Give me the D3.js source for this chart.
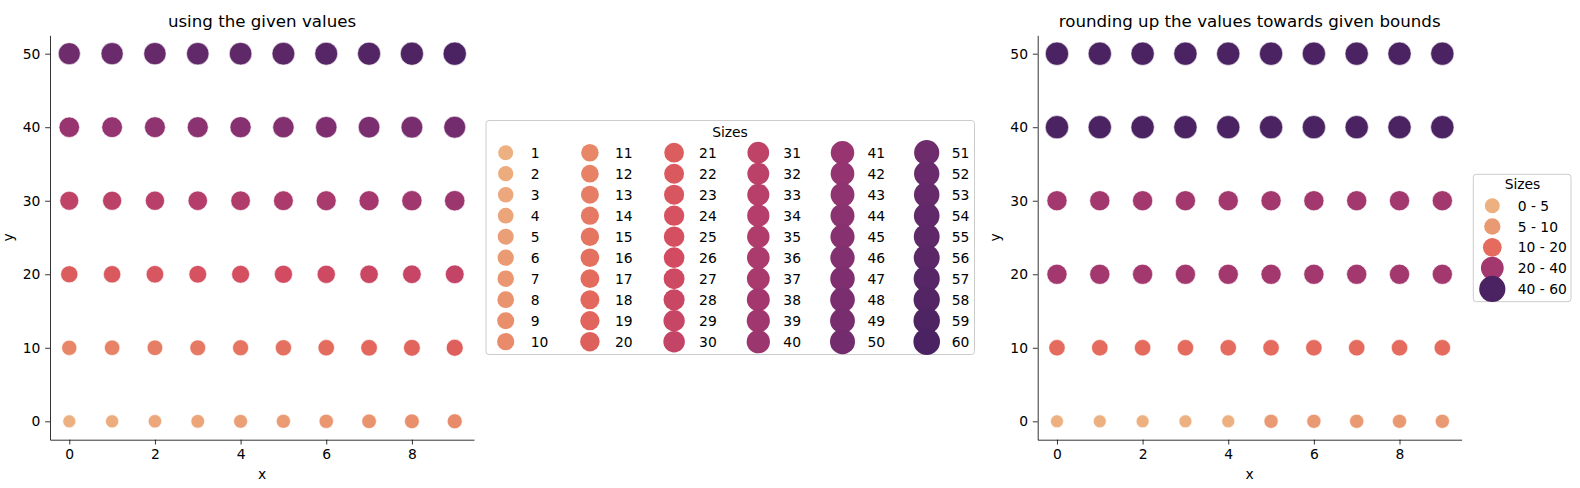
<!DOCTYPE html>
<html>
<head>
<meta charset="utf-8">
<script src="https://cdn.jsdelivr.net/npm/d3@7"></script>
<style>
  html, body { margin: 0; padding: 0; background: #fff; }
  svg { display: block; font-family: "DejaVu Sans", sans-serif; }
</style>
</head>
<body>
<svg id="chart" width="1580" height="488"></svg>
<script>
// ---------------- data ----------------
const xValues = [0, 1, 2, 3, 4, 5, 6, 7, 8, 9];
const yValues = [0, 10, 20, 30, 40, 50];
// given values (one row per y level)
const givenValues = [
  [1, 2, 3, 4, 5, 6, 7, 8, 9, 10],
  [11, 12, 13, 14, 15, 16, 17, 18, 19, 20],
  [21, 22, 23, 24, 25, 26, 27, 28, 29, 30],
  [31, 32, 33, 34, 35, 36, 37, 38, 39, 40],
  [41, 42, 43, 44, 45, 46, 47, 48, 49, 50],
  [51, 52, 53, 54, 55, 56, 57, 58, 59, 60]
];
// values rounded up towards the given bounds
const roundedValues = [
  [5, 5, 5, 5, 5, 10, 10, 10, 10, 10],
  [20, 20, 20, 20, 20, 20, 20, 20, 20, 20],
  [40, 40, 40, 40, 40, 40, 40, 40, 40, 40],
  [40, 40, 40, 40, 40, 40, 40, 40, 40, 40],
  [60, 60, 60, 60, 60, 60, 60, 60, 60, 60],
  [60, 60, 60, 60, 60, 60, 60, 60, 60, 60]
];
const boundValues = [5, 10, 20, 40, 60];
const boundLabels = ["0 - 5", "5 - 10", "10 - 20", "20 - 40", "40 - 60"];
const legendValues = [
  1, 2, 3, 4, 5, 6, 7, 8, 9, 10, 11, 12, 13, 14, 15, 16, 17, 18, 19, 20,
  21, 22, 23, 24, 25, 26, 27, 28, 29, 30, 31, 32, 33, 34, 35, 36, 37, 38, 39, 40,
  41, 42, 43, 44, 45, 46, 47, 48, 49, 50, 51, 52, 53, 54, 55, 56, 57, 58, 59, 60
];
const xTicks = [0, 2, 4, 6, 8];
const yTicks = [0, 10, 20, 30, 40, 50];
const titles = ["using the given values", "rounding up the values towards given bounds"];

// ---------------- styling ----------------
const flareStops = ["#edb081", "#e98d6b", "#e3685c", "#d14a61", "#b13c6c", "#8f3371", "#6c2b6d", "#4b2362"];
const svg = d3.select("#chart");
const FS = 13.89;

function flare(domainMin, domainMax) {
  const n = flareStops.length;
  const dom = flareStops.map((_, i) => domainMin + (domainMax - domainMin) * i / (n - 1));
  return d3.scaleLinear().domain(dom).range(flareStops).interpolate(d3.interpolateRgb).clamp(true);
}
function sizeScale(domainMin, domainMax, aMin, aMax) {
  const s = d3.scaleLinear().domain([domainMin, domainMax]).range([aMin, aMax]).clamp(true);
  return v => Math.sqrt(s(v));
}

function drawPanel(left, right, title, values, vmin, vmax) {
  const top = 35.3, bottom = 439.7;
  const x = d3.scaleLinear().domain([-0.45, 9.45]).range([left, right]);
  const y = d3.scaleLinear().domain([-2.5, 52.5]).range([bottom, top]);
  const color = flare(vmin, vmax);
  const r = sizeScale(vmin, vmax, 37.8, 128.8);

  const g = svg.append("g");
  const pts = [];
  yValues.forEach((yv, i) => xValues.forEach((xv, j) => pts.push({x: xv, y: yv, v: values[i][j]})));
  g.selectAll("circle").data(pts).join("circle")
    .attr("cx", d => x(d.x)).attr("cy", d => y(d.y))
    .attr("r", d => r(d.v) + 0.3)
    .attr("fill", d => color(d.v))
    .attr("stroke", "#fff").attr("stroke-width", 0.6);

  const tick = 4.86;
  const xa = g.append("g").attr("transform", `translate(0,${bottom})`)
    .call(d3.axisBottom(x).tickValues(xTicks).tickFormat(d3.format("d")).tickSize(tick).tickPadding(4.86).tickSizeOuter(0));
  const ya = g.append("g").attr("transform", `translate(${left},0)`)
    .call(d3.axisLeft(y).tickValues(yTicks).tickFormat(d3.format("d")).tickSize(tick).tickPadding(4.86).tickSizeOuter(0));
  [xa, ya].forEach(a => {
    a.selectAll("text").attr("font-size", FS).attr("fill", "#000").attr("font-family", "DejaVu Sans");
    a.selectAll("line").attr("stroke", "#000").attr("stroke-width", 0.8);
    a.select(".domain").attr("stroke", "#000").attr("stroke-width", 0.8);
  });

  g.append("text").attr("x", (left + right) / 2).attr("y", 26.6)
    .attr("text-anchor", "middle").attr("font-size", 16.67).text(title);
  g.append("text").attr("x", (left + right) / 2).attr("y", 478.5)
    .attr("text-anchor", "middle").attr("font-size", FS).text("x");
  g.append("text").attr("transform", `translate(${left - 37.5},${(top + bottom) / 2}) rotate(-90)`)
    .attr("text-anchor", "middle").attr("font-size", FS).text("y");
}

drawPanel(50, 474, titles[0], givenValues, 1, 60);
drawPanel(1037.7, 1461.6, titles[1], roundedValues, 5, 60);

// ---------------- legends ----------------
function legendFrame(x0, y0, x1, y1) {
  svg.append("rect").attr("x", x0).attr("y", y0).attr("width", x1 - x0).attr("height", y1 - y0)
    .attr("rx", 3).attr("fill", "#fff").attr("fill-opacity", 0.8)
    .attr("stroke", "#cccccc").attr("stroke-width", 1);
}

// left legend
{
  const color = flare(1, 60);
  const lr = sizeScale(1, 60, 56, 177);
  legendFrame(486, 120.5, 974.5, 354.5);
  svg.append("text").attr("x", 730).attr("y", 136.5).attr("text-anchor", "middle")
    .attr("font-size", FS).text("Sizes");
  const lg = svg.append("g");
  const items = lg.selectAll("g").data(legendValues).join("g")
    .attr("transform", (d, i) => `translate(${505.7 + Math.floor(i / 10) * 84.2},${152.7 + (i % 10) * 21})`);
  items.append("circle").attr("r", d => lr(d)).attr("fill", d => color(d));
  items.append("text").attr("x", 25).attr("y", 5).attr("font-size", FS).text(d => d);
}

// right legend
{
  const color = flare(5, 60);
  const lr = sizeScale(5, 60, 56, 172);
  legendFrame(1473.3, 174.3, 1571, 301.7);
  svg.append("text").attr("x", 1522.5).attr("y", 189).attr("text-anchor", "middle")
    .attr("font-size", FS).text("Sizes");
  const lg = svg.append("g");
  const items = lg.selectAll("g").data(boundValues).join("g")
    .attr("transform", (d, i) => `translate(1492.3,${205.7 + i * 20.8})`);
  items.append("circle").attr("r", d => lr(d)).attr("fill", d => color(d));
  items.append("text").attr("x", 25.4).attr("y", 5).attr("font-size", FS).text((d, i) => boundLabels[i]);
}
</script>
</body>
</html>
